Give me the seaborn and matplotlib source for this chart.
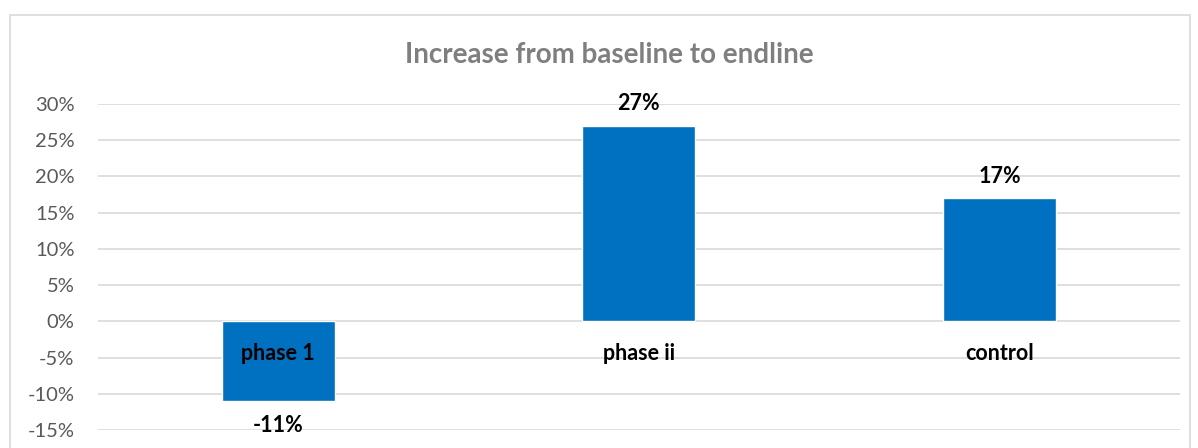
import matplotlib
matplotlib.use('Agg')
import matplotlib.pyplot as plt
import seaborn as sns
import pandas as pd
from matplotlib.patches import Rectangle
from matplotlib.ticker import FuncFormatter

# datos del gráfico
grupos = ['phase 1', 'phase ii', 'control']
incrementos = [-11, 27, 17]
ticks_y = [-15, -10, -5, 0, 5, 10, 15, 20, 25, 30]

df = pd.DataFrame({'Grupo': grupos, 'Incremento': incrementos})

sns.set_theme(style='white')
plt.rcParams['font.family'] = ['Lato', 'DejaVu Sans']

fig = plt.figure(figsize=(11.98, 4.48), dpi=100)
ax = fig.add_axes([0.0818, 0.040, 0.903, 0.728])

# marco del gráfico
fig.patches.append(Rectangle((10 / 1198, -0.1), 1180 / 1198, 1 - 15 / 448 + 0.1,
                             transform=fig.transFigure, fill=False,
                             edgecolor='#D9D9D9', linewidth=1.2))

sns.barplot(data=df, x='Grupo', y='Incremento', color='#0070C0', saturation=1,
            width=0.313, ax=ax, zorder=3)

ax.set_ylim(-15, 30)
ax.set_yticks(ticks_y)
ax.yaxis.set_major_formatter(FuncFormatter(lambda v, p: f'{v:.0f}%'))
ax.grid(axis='y', color='#D9D9D9', linewidth=1.2, zorder=0)
ax.set_axisbelow(True)
for s in ax.spines.values():
    s.set_visible(False)
ax.tick_params(axis='y', labelsize=14.5, labelcolor='#595959', length=0, pad=17)
ax.set_xticks([])
ax.set_xlabel('')
ax.set_ylabel('')

# etiquetas de categoría y de valor
for i, (g, v) in enumerate(zip(grupos, incrementos)):
    ax.text(i, -4.4, g, ha='center', va='center', fontsize=15.5,
            fontweight='bold', color='black', zorder=4)
    if v >= 0:
        ax.text(i, v + 1.6, f'{v}%', ha='center', va='bottom', fontsize=15.5,
                fontweight='bold', color='black')
    else:
        ax.text(i, v - 1.9, f'{v}%', ha='center', va='top', fontsize=15.5,
                fontweight='bold', color='black')

fig.text(0.509, 1 - 55 / 448, 'Increase from baseline to endline', ha='center',
         va='center', fontsize=20, fontweight='bold', color='#7F7F7F')

fig.savefig('out.png', dpi=100)
